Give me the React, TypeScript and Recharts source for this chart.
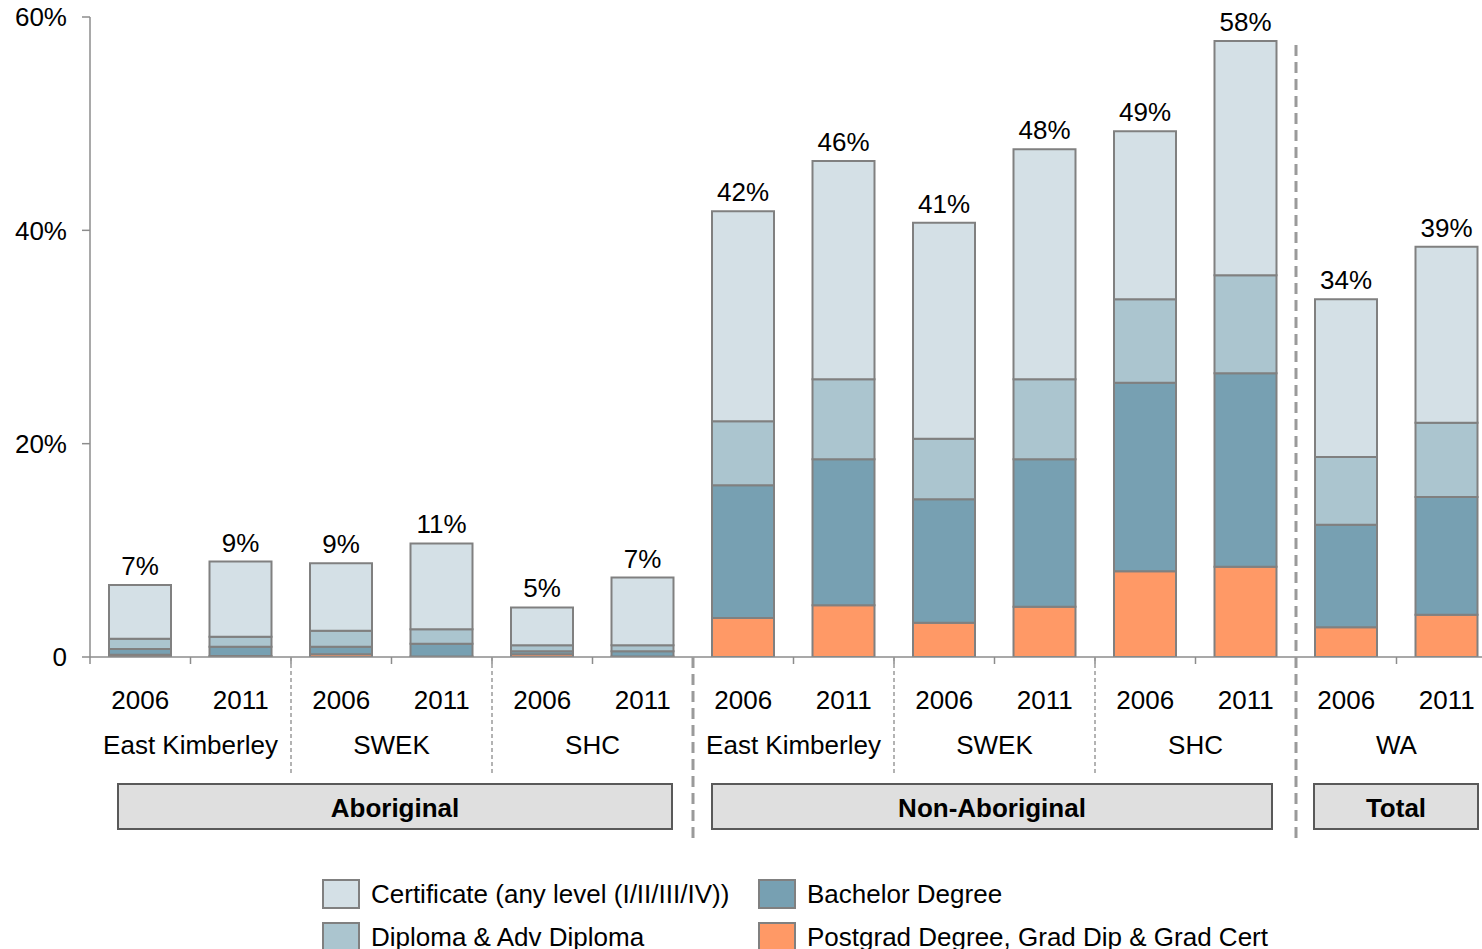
import { Bar, BarChart, LabelList, XAxis, YAxis } from "recharts";

const years = ["2006", "2011", "2006", "2011", "2006", "2011", "2006", "2011", "2006", "2011", "2006", "2011", "2006", "2011"];
const areas = [
  "East Kimberley", "East Kimberley", "SWEK", "SWEK", "SHC", "SHC",
  "East Kimberley", "East Kimberley", "SWEK", "SWEK", "SHC", "SHC",
  "WA", "WA",
];
const populations = [
  "Aboriginal", "Aboriginal", "Aboriginal", "Aboriginal", "Aboriginal", "Aboriginal",
  "Non-Aboriginal", "Non-Aboriginal", "Non-Aboriginal", "Non-Aboriginal", "Non-Aboriginal", "Non-Aboriginal",
  "Total", "Total",
];

// values in %
const postgrad = [0.2, 0.1, 0.25, 0.05, 0.25, 0.05, 3.65, 4.85, 3.2, 4.7, 8.05, 8.45, 2.8, 3.95];
const bachelor = [0.55, 0.85, 0.7, 1.2, 0.3, 0.5, 12.45, 13.7, 11.6, 13.85, 17.65, 18.15, 9.6, 11.05];
const diploma = [0.95, 0.95, 1.5, 1.35, 0.55, 0.55, 6.0, 7.5, 5.65, 7.5, 7.85, 9.2, 6.35, 6.95];
const certificate = [5.05, 7.05, 6.35, 8.05, 3.55, 6.35, 19.7, 20.45, 20.25, 21.55, 15.75, 21.95, 14.8, 16.5];
const totalLabels = ["7%", "9%", "9%", "11%", "5%", "7%", "42%", "46%", "41%", "48%", "49%", "58%", "34%", "39%"];

const yTicks = [0, 20, 40, 60];

const series = [
  { key: "postgrad", name: "Postgrad Degree, Grad Dip & Grad Cert", color: "#ff9966" },
  { key: "bachelor", name: "Bachelor Degree", color: "#77a0b2" },
  { key: "diploma", name: "Diploma & Adv Diploma", color: "#abc5cf" },
  { key: "certificate", name: "Certificate (any level (I/II/III/IV))", color: "#d4e0e6" },
];
const legendOrder = ["certificate", "bachelor", "diploma", "postgrad"];

const data = years.map((year, i) => ({
  id: `${i}-${year}`,
  year,
  area: areas[i],
  population: populations[i],
  postgrad: postgrad[i],
  bachelor: bachelor[i],
  diploma: diploma[i],
  certificate: certificate[i],
  label: totalLabels[i],
}));

// the original chart runs a little past the right edge of the picture
const W = 1482;
const H = 949;
const CHART_W = 1499;
const margin = { top: 17, right: 2, left: 0, bottom: 92 };
const Y_AXIS_W = 90;
const X_AXIS_H = 200;
const BAND = (CHART_W - margin.right - Y_AXIS_W) / data.length;

const FONT = "'Liberation Sans', Arial, sans-serif";
const GRAY = "#8c8c8c";
const BAR_STROKE = "#808080";

const thinSeparators = [2, 4, 8, 10];
const thickSeparators = [6, 12];
// box insets (left, right) relative to group boundaries
const boxInsets: Record<string, [number, number]> = {
  Aboriginal: [28, 21],
  "Non-Aboriginal": [19, 24],
  Total: [18, 19],
};

function XTick(props: any) {
  const { x, y, index } = props;
  const row = data[index];
  const left = x - BAND / 2;
  const parts: any[] = [];

  parts.push(<line key="t" x1={left} x2={left} y1={y} y2={y + 7} stroke={GRAY} strokeWidth={1.5} />);

  parts.push(
    <text key="yr" x={x} y={y + 52} textAnchor="middle" fontSize={26} fontFamily={FONT} fill="#000">
      {row.year}
    </text>
  );

  if (index % 2 === 0) {
    parts.push(
      <text key="ar" x={x + BAND / 2} y={y + 97} textAnchor="middle" fontSize={26} fontFamily={FONT} fill="#000">
        {row.area}
      </text>
    );
  }

  if (thinSeparators.includes(index)) {
    parts.push(
      <line key="s" x1={left} x2={left} y1={y} y2={y + 118} stroke="#9a9a9a" strokeWidth={1.5} strokeDasharray="4 3" />
    );
  }
  if (thickSeparators.includes(index)) {
    const top = index === 12 ? 45 - y : 0;
    parts.push(
      <line key="S" x1={left} x2={left} y1={y + top} y2={y + 181} stroke="#9a9a9a" strokeWidth={3} strokeDasharray="11 6" />
    );
  }

  if (index === 0 || data[index - 1].population !== row.population) {
    let end = index;
    while (end + 1 < data.length && data[end + 1].population === row.population) end++;
    const [li, ri] = boxInsets[row.population];
    const bx1 = left + li;
    const bx2 = left + (end - index + 1) * BAND - ri;
    parts.push(
      <g key="box">
        <rect x={bx1} y={y + 127} width={bx2 - bx1} height={45} fill="#dfdfdf" stroke="#595959" strokeWidth={2} />
        <text x={(bx1 + bx2) / 2} y={y + 160} textAnchor="middle" fontSize={26} fontWeight="bold" fontFamily={FONT} fill="#000">
          {row.population}
        </text>
      </g>
    );
  }

  return <g>{parts}</g>;
}

function Legend() {
  const items = legendOrder.map((k) => series.find((s) => s.key === k)!);
  return (
    <div
      style={{
        position: "absolute",
        left: 322,
        top: 878,
        display: "grid",
        gridTemplateColumns: "436px auto",
        rowGap: 11,
        fontFamily: FONT,
        fontSize: 26,
        color: "#000",
      }}
    >
      {items.map((s) => (
        <div key={s.key} style={{ display: "flex", alignItems: "center", height: 32 }}>
          <span
            style={{
              width: 34,
              height: 26,
              background: s.color,
              border: `2px solid ${BAR_STROKE}`,
              marginRight: 11,
              flex: "none",
            }}
          />
          <span style={{ whiteSpace: "nowrap" }}>{s.name}</span>
        </div>
      ))}
    </div>
  );
}

export default function App() {
  return (
    <div style={{ position: "absolute", left: 0, top: 0, width: W, height: H, overflow: "hidden", background: "#fff" }}>
      <BarChart width={CHART_W} height={H} data={data} margin={margin} barSize={62}>
        <YAxis
          width={Y_AXIS_W}
          domain={[0, 60]}
          ticks={yTicks}
          allowDataOverflow
          axisLine={{ stroke: GRAY, strokeWidth: 1.5 }}
          tickLine={{ stroke: GRAY, strokeWidth: 1.5 }}
          tickSize={8}
          tickMargin={15}
          tick={{ fill: "#000", fontSize: 26, fontFamily: FONT }}
          tickFormatter={(v) => (v === 0 ? "0" : `${v}%`)}
        />
        <XAxis
          dataKey="id"
          height={X_AXIS_H}
          interval={0}
          tickSize={0}
          tickMargin={0}
          tickLine={false}
          axisLine={{ stroke: GRAY, strokeWidth: 1.5 }}
          tick={<XTick />}
        />
        {series.map((s, i) => (
          <Bar
            key={s.key}
            dataKey={s.key}
            name={s.name}
            stackId="a"
            fill={s.color}
            stroke={BAR_STROKE}
            strokeWidth={2}
            isAnimationActive={false}
          >
            {i === series.length - 1 && (
              <LabelList dataKey="label" position="top" offset={10} fill="#000" fontSize={26} fontFamily={FONT} />
            )}
          </Bar>
        ))}
      </BarChart>
      <Legend />
    </div>
  );
}
